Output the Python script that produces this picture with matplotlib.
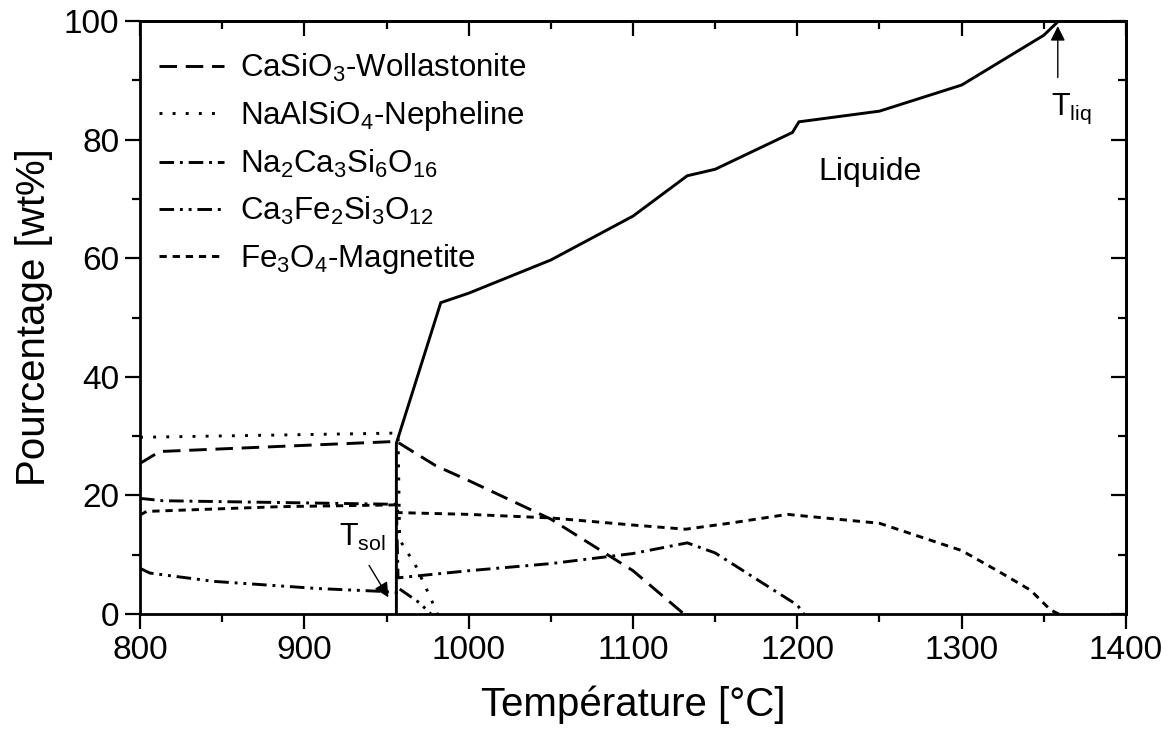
import matplotlib
matplotlib.use('Agg')
import matplotlib.pyplot as plt
from matplotlib.ticker import MultipleLocator

plt.rcParams['font.family'] = ['Liberation Sans', 'DejaVu Sans']
plt.rcParams['mathtext.fontset'] = 'custom'
plt.rcParams['mathtext.rm'] = 'Liberation Sans'
plt.rcParams['mathtext.it'] = 'Liberation Sans:italic'
plt.rcParams['mathtext.bf'] = 'Liberation Sans:bold'

# --- données ---
liq_T = [956, 956, 983, 1000, 1050, 1100, 1133, 1150, 1197, 1201, 1250, 1300, 1350, 1359, 1400]
liq_w = [0, 28.8, 52.5, 54.1, 59.7, 67.1, 73.9, 75.0, 81.2, 83.0, 84.8, 89.2, 97.6, 100, 100]

wol_T = [800, 812, 956, 980, 1000, 1050, 1100, 1131]
wol_w = [25.4, 27.4, 29.1, 25.0, 22.5, 16.0, 7.3, 0]

nep_T = [800, 954, 957, 958, 963, 968, 976, 981]
nep_w = [29.8, 30.5, 30.4, 12.5, 10.3, 8.0, 3.2, 0]

nacs_T = [800, 814, 885, 956, 957, 1000, 1050, 1100, 1133, 1150, 1200, 1204]
nacs_w = [19.5, 19.1, 18.8, 18.5, 6.1, 7.3, 8.5, 10.2, 12.0, 10.3, 1.5, 0]

cfs_T = [800, 806, 845, 908, 948, 956, 957, 970, 977]
cfs_w = [7.7, 6.9, 5.5, 4.3, 3.8, 3.6, 4.4, 1.9, 0]

mag_T = [800, 804, 885, 956, 957, 1000, 1050, 1100, 1132, 1161, 1194, 1250, 1300, 1323, 1342, 1354, 1359]
mag_w = [16.7, 17.3, 18.1, 18.4, 17.1, 16.8, 16.2, 15.0, 14.3, 15.4, 16.8, 15.3, 10.7, 7.1, 4.0, 0.7, 0]

labels = [r'CaSiO$_3$-Wollastonite', r'NaAlSiO$_4$-Nepheline', r'Na$_2$Ca$_3$Si$_6$O$_{16}$',
          r'Ca$_3$Fe$_2$Si$_3$O$_{12}$', r'Fe$_3$O$_4$-Magnetite']

fig = plt.figure(figsize=(11.69, 7.32), dpi=100)
ax = fig.add_axes([0.1198, 0.1612, 0.8434, 0.8101])

lw = 2.1
ax.plot(liq_T, liq_w, color='black', lw=lw, solid_joinstyle='miter')
ax.plot(wol_T, wol_w, color='black', lw=lw, dashes=(6, 3), label=labels[0])
ax.plot(nep_T, nep_w, color='black', lw=lw, dashes=(1, 3.5), label=labels[1])
ax.plot(nacs_T, nacs_w, color='black', lw=lw, dashes=(5, 2, 1, 2), label=labels[2])
ax.plot(cfs_T, cfs_w, color='black', lw=lw, dashes=(5, 2, 1, 2, 1, 2), label=labels[3])
ax.plot(mag_T, mag_w, color='black', lw=lw, dashes=(2.5, 2), label=labels[4])

ax.set_xlim(800, 1400)
ax.set_ylim(0, 100)
ax.xaxis.set_major_locator(MultipleLocator(100))
ax.xaxis.set_minor_locator(MultipleLocator(50))
ax.yaxis.set_major_locator(MultipleLocator(20))
ax.yaxis.set_minor_locator(MultipleLocator(10))
ax.tick_params(which='major', direction='out', length=11, width=1.6, labelsize=24, pad=4)
ax.tick_params(which='minor', direction='out', length=6, width=1.6)
for s in ax.spines.values():
    s.set_linewidth(2)

# axes secondaires (ticks intérieurs en haut et à droite)
top = ax.secondary_xaxis('top')
top.xaxis.set_major_locator(MultipleLocator(100))
top.xaxis.set_minor_locator(MultipleLocator(50))
top.tick_params(which='major', direction='in', length=11, width=1.6, labeltop=False)
top.tick_params(which='minor', direction='in', length=6, width=1.6)
top.spines['top'].set_linewidth(2)
right = ax.secondary_yaxis('right')
right.yaxis.set_major_locator(MultipleLocator(20))
right.yaxis.set_minor_locator(MultipleLocator(10))
right.tick_params(which='major', direction='in', length=11, width=1.6, labelright=False)
right.tick_params(which='minor', direction='in', length=6, width=1.6)
right.spines['right'].set_linewidth(2)

ax.set_xlabel('Température [°C]', fontsize=29, labelpad=14)
ax.set_ylabel('Pourcentage [wt%]', fontsize=29, labelpad=8)

leg = ax.legend(loc='upper left', frameon=False, fontsize=22.5, handlelength=2.1,
                handletextpad=0.5, labelspacing=0.48, borderaxespad=0.2,
                bbox_to_anchor=(0.0, 0.98))

ax.text(1213, 74.5, 'Liquide', fontsize=23, ha='left', va='center')

ax.annotate('', xy=(952, 2.4), xytext=(938.5, 8.6),
            arrowprops=dict(arrowstyle='-|>', color='black', lw=1, mutation_scale=22))
ax.text(921, 11.5, r'T$_{\mathrm{sol}}$', fontsize=22, ha='left', va='baseline')

ax.annotate('', xy=(1358.5, 99.6), xytext=(1358.5, 90),
            arrowprops=dict(arrowstyle='-|>', color='black', lw=1, mutation_scale=22))
ax.text(1354.5, 84.2, r'T$_{\mathrm{liq}}$', fontsize=22, ha='left', va='baseline')

fig.savefig('out.png', dpi=100)
